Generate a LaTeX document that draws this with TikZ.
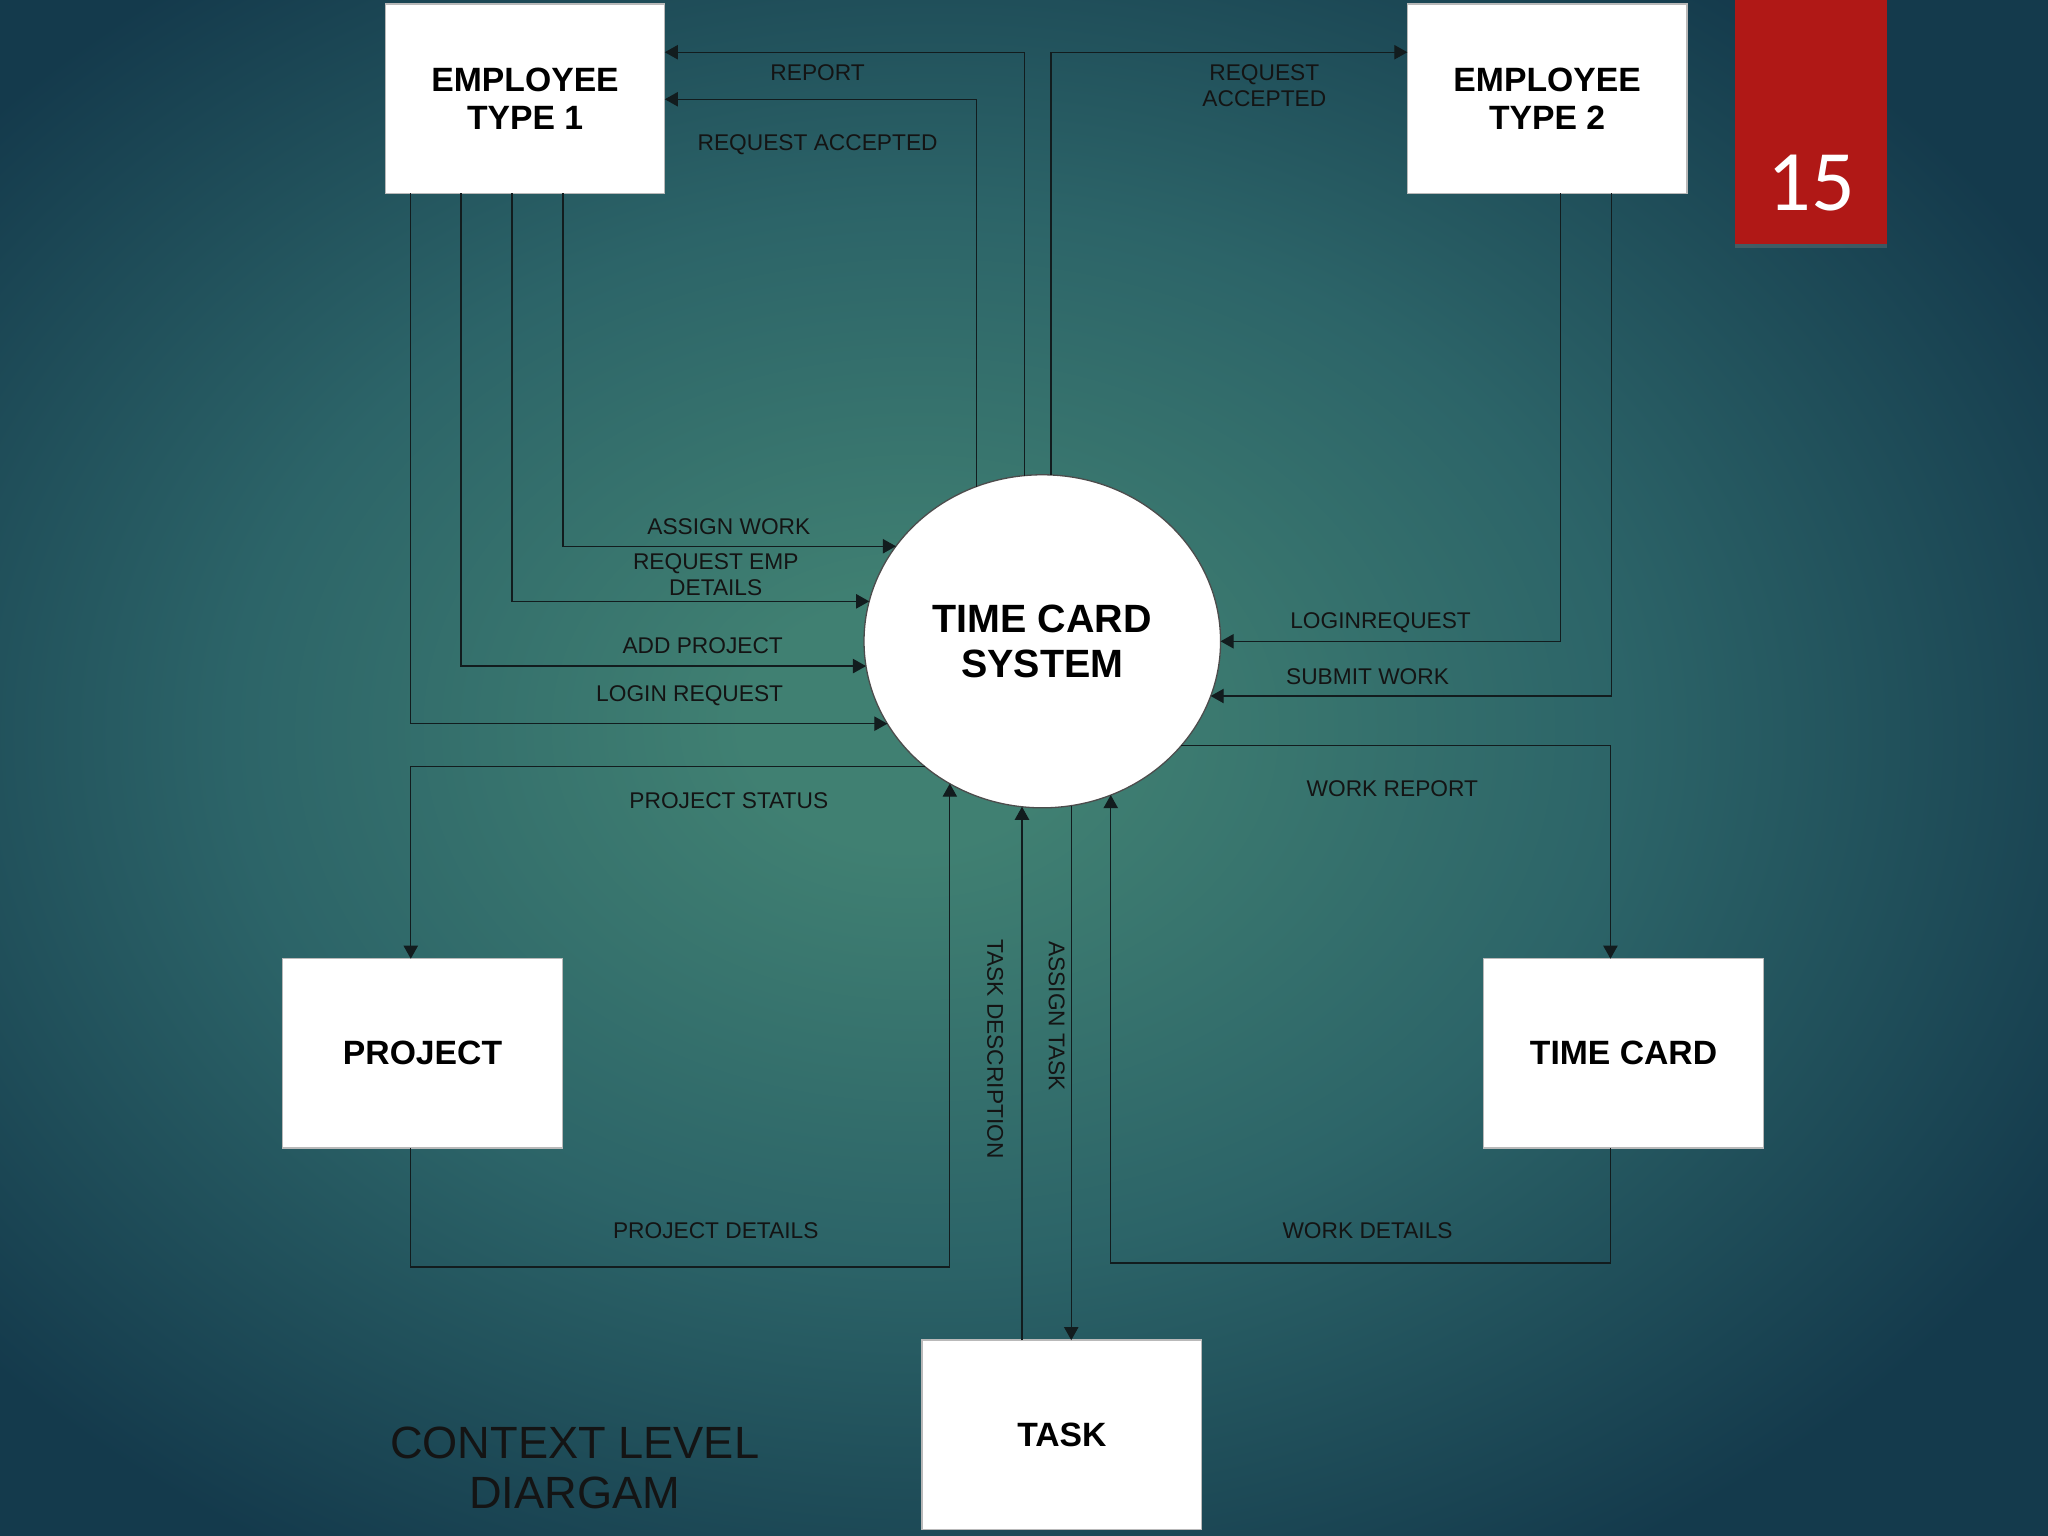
\documentclass[tikz,border=0pt]{standalone}
\usepackage{fontspec}
\setmainfont{Liberation Sans}
\newfontfamily\numfont{Carlito}
\usetikzlibrary{arrows.meta,shapes.geometric,calc,shadows}
\definecolor{bginner}{RGB}{64,128,114}
\definecolor{bgmid}{RGB}{44,100,104}
\definecolor{bgouter}{RGB}{20,58,76}
\definecolor{slidered}{RGB}{176,24,22}
\definecolor{linec}{RGB}{18,28,30}
\pgfdeclareradialshading{bgshade}{\pgfpoint{-3bp}{1.5bp}}{color(0bp)=(bginner); color(4bp)=(bginner); color(17bp)=(bgmid); color(31bp)=(bgouter); color(80bp)=(bgouter)}
\tikzset{
  box/.style={draw=gray!55, line width=0.5pt, fill=white, minimum width=107pt, minimum height=72.5pt,
    inner sep=0pt, outer sep=0pt, font=\bfseries\fontsize{12.9}{14.5}\selectfont, align=center},
  proc/.style={ellipse, draw=gray!60!black, line width=0.5pt, fill=white, minimum width=136.5pt, minimum height=127.5pt,
    inner sep=0pt, outer sep=0pt, font=\bfseries\fontsize{15.1}{17}\selectfont, align=center},
  flow/.style={draw=linec, line width=0.45pt, -{Triangle[length=5pt,width=5.5pt]}},
  lbl/.style={font=\fontsize{8.7}{9.8}\selectfont, align=center, inner sep=0pt, text=black!92},
}
\begin{document}
\begin{tikzpicture}[x=0.5pt,y=-0.5pt]
\useasboundingbox (0,0) rectangle (1568,1176);
\shade[shading=bgshade] (0,0) rectangle (1568,1176);
% slide number
\node[fill=slidered, minimum width=58.5pt, minimum height=93.5pt, inner sep=0pt,
  drop shadow={shadow xshift=0pt, shadow yshift=-1.5pt, opacity=0.35}] (num) at (1386.5,93.5) {};
\node[text=white, font=\numfont\fontsize{33}{33}\selectfont, inner sep=0pt] (numtxt) at (1387,140) {15};
% entities
\node[box] (e1) at (402,75.5) {EMPLOYEE\\TYPE 1};
\node[box] (e2) at (1184.5,75.5) {EMPLOYEE\\TYPE 2};
\node[box] (proj) at (323.5,806.5) {PROJECT};
\node[box] (tc) at (1243,806.5) {TIME CARD};
\node[box] (task) at (813,1098.5) {TASK};
\node[proc] (sys) at (798,491) {TIME CARD\\SYSTEM};
% top flows
\draw[flow] (sys.96.75) |- ($(e1.north east)+(0,37)$);
\draw[flow] (sys.113.8) |- ($(e1.north east)+(0,73)$);
\draw[flow] (sys.87.3) |- ($(e2.north west)+(0,37)$);
% employee 1 to system
\draw[flow] ($(e1.south west)+(136,0)$) |- (sys.147.95);
\draw[flow] ($(e1.south west)+(97,0)$) |- (sys.167.69);
\draw[flow] ($(e1.south west)+(58,0)$) |- (sys.188.87);
\draw[flow] ($(e1.south west)+(19,0)$) |- (sys.208.45);
% employee 2 to system
\draw[flow] ($(e2.south west)+(117,0)$) |- (sys.0);
\draw[flow] ($(e2.south west)+(156,0)$) |- (sys.342.4);
% system to time card / project
\draw[flow] (sys.323.04) -| ($(tc.north west)+(97,0)$);
\draw[flow] (sys.227.6) -| ($(proj.north west)+(98,0)$);
% back to system
\draw[flow] ($(proj.south west)+(98,0)$) -- ++(0,91) -| (sys.237.4);
\draw[flow] ($(tc.south west)+(97,0)$) -- ++(0,88) -| (sys.294.75);
% task
\draw[flow] (task.north -| sys.263.25) -- (sys.263.25);
\draw[flow] (sys.280.83) -- (sys.280.83 |- task.north);
% labels
\node[lbl] (l1) at (626,56) {REPORT};
\node[lbl] (l2) at (626,111) {REQUEST ACCEPTED};
\node[lbl] (l3) at (968,65.5) {REQUEST\\ACCEPTED};
\node[lbl] (l4) at (558,403) {ASSIGN WORK};
\node[lbl] (l5) at (548,440) {REQUEST EMP\\DETAILS};
\node[lbl] (l6) at (538,494) {ADD PROJECT};
\node[lbl] (l7) at (528,533) {LOGIN REQUEST};
\node[lbl] (l8) at (558,613) {PROJECT STATUS};
\node[lbl] (l9) at (1057,477) {LOGINREQUEST};
\node[lbl] (l10) at (1047,518) {SUBMIT WORK};
\node[lbl] (l11) at (1066,604) {WORK REPORT};
\node[lbl] (l12) at (548,942) {PROJECT DETAILS};
\node[lbl] (l13) at (1047,942) {WORK DETAILS};
\node[lbl, rotate=-90] (l14) at (762,803) {TASK DESCRIPTION};
\node[lbl, rotate=-90] (l15) at (809,778) {ASSIGN TASK};
\node[font=\fontsize{17.3}{19}\selectfont, align=center, inner sep=0pt, text=black!92] (title) at (440,1124) {CONTEXT LEVEL\\DIARGAM};
\end{tikzpicture}
\end{document}
